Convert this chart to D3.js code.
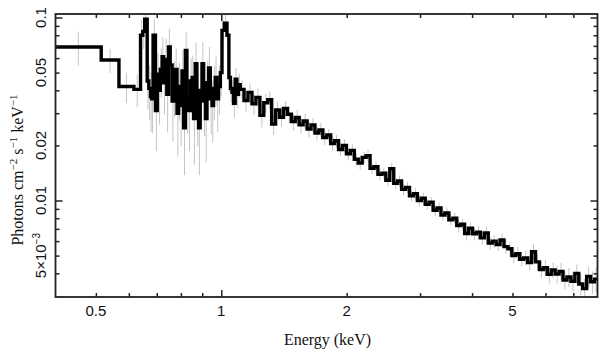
<!DOCTYPE html>
<html>
<head>
<meta charset="utf-8">
<script src="https://cdn.jsdelivr.net/npm/d3@7"></script>
<style>
  body { margin: 0; background: #fff; }
</style>
</head>
<body>
<script>
// bin edges (keV), one more than the flux values
const binEdges = [
  0.400, 0.515, 0.568, 0.617, 0.640, 0.648, 0.655, 0.664, 0.670, 0.676,
  0.681, 0.686, 0.695, 0.702, 0.708, 0.714, 0.721, 0.727, 0.734, 0.740,
  0.747, 0.754, 0.762, 0.769, 0.776, 0.783, 0.790, 0.797, 0.805, 0.812,
  0.820, 0.827, 0.835, 0.843, 0.851, 0.858, 0.866, 0.874, 0.882, 0.890,
  0.899, 0.907, 0.916, 0.924, 0.932, 0.941, 0.950, 0.958, 0.967, 0.976,
  0.985, 0.995, 1.004, 1.017, 1.032, 1.043, 1.052, 1.061, 1.070, 1.080,
  1.090, 1.100,
  1.110, 1.134, 1.159, 1.185, 1.211, 1.238, 1.265, 1.293, 1.321, 1.350,
  1.380, 1.410, 1.441, 1.473, 1.505, 1.538, 1.572, 1.607, 1.642, 1.678,
  1.715, 1.753, 1.792, 1.831, 1.871, 1.912, 1.954, 1.997, 2.041, 2.086,
  2.132, 2.179, 2.227, 2.276, 2.326, 2.377, 2.430, 2.483, 2.538, 2.594,
  2.651, 2.709, 2.769, 2.830, 2.892, 2.956, 3.021, 3.087, 3.155, 3.225,
  3.296, 3.368, 3.442, 3.518, 3.596, 3.675, 3.756, 3.838, 3.923, 4.009,
  4.097, 4.187, 4.279, 4.374, 4.470, 4.568, 4.669, 4.771, 4.876, 4.984,
  5.093, 5.205, 5.320, 5.437, 5.556, 5.678, 5.803, 5.931, 6.061, 6.195,
  6.331, 6.470, 6.612, 6.758, 6.907, 7.059, 7.214, 7.373, 7.535, 7.701,
  7.870, 8.000
];

// Photons cm^-2 s^-1 keV^-1 per bin
const flux = [
  0.069, 0.0586, 0.042, 0.0405, 0.080, 0.084, 0.098,
  0.045, 0.041, 0.037, 0.036, 0.080, 0.031, 0.049, 0.040, 0.052,
  0.061, 0.044, 0.059, 0.038, 0.069, 0.055, 0.035, 0.043, 0.052,
  0.030, 0.042, 0.033, 0.051, 0.025, 0.066, 0.036, 0.031, 0.045,
  0.047, 0.028, 0.056, 0.032, 0.025, 0.040, 0.056, 0.035, 0.028,
  0.044, 0.053, 0.036, 0.033, 0.041, 0.047, 0.036, 0.042, 0.050,
  0.085, 0.093, 0.080,
  0.047, 0.041, 0.039, 0.034, 0.046, 0.038, 0.043,
  0.0405, 0.0352, 0.0390, 0.0338, 0.0366, 0.0292, 0.0342, 0.0355, 0.0262, 0.0312,
  0.0285, 0.0318, 0.0296, 0.0270, 0.0284, 0.0259, 0.0272, 0.0246, 0.0259, 0.0234,
  0.0243, 0.0221, 0.0228, 0.0205, 0.0212, 0.0190, 0.0200, 0.0180, 0.0188, 0.0168,
  0.0160, 0.0172, 0.0176, 0.0150, 0.0153, 0.0139, 0.0141, 0.0129, 0.0149, 0.0124,
  0.0128, 0.0115, 0.0118, 0.0106, 0.0109, 0.0100, 0.0103, 0.00952, 0.00980, 0.00885,
  0.00912, 0.00832, 0.00856, 0.00785, 0.00800, 0.00730, 0.00742, 0.00660, 0.00705, 0.00658,
  0.00672, 0.00625, 0.00665, 0.00585, 0.00600, 0.00575, 0.00608, 0.00560, 0.00545, 0.00500,
  0.00512, 0.00478, 0.00486, 0.00458, 0.00525, 0.00462, 0.00420, 0.00430, 0.00395, 0.00418,
  0.00396, 0.00410, 0.00368, 0.00382, 0.00362, 0.00400, 0.00350, 0.00330, 0.00385, 0.00360,
  0.00372
];

// relative 1-sigma error of each bin
const fracErr = [
  0.21, 0.15, 0.19, 0.2, 0.22, 0.2, 0.17,
  0.3, 0.33, 0.36, 0.35, 0.22, 0.4, 0.3, 0.35, 0.3,
  0.28, 0.33, 0.3, 0.38, 0.26, 0.3, 0.4, 0.34, 0.3,
  0.42, 0.35, 0.4, 0.3, 0.45, 0.26, 0.36, 0.4, 0.33,
  0.32, 0.44, 0.3, 0.38, 0.45, 0.35, 0.3, 0.36, 0.42,
  0.32, 0.3, 0.36, 0.37, 0.33, 0.3, 0.34, 0.3, 0.26,
  0.13, 0.11, 0.12,
  0.17, 0.16, 0.16, 0.17, 0.15, 0.16, 0.15,
  0.12, 0.13, 0.12, 0.13, 0.12, 0.14, 0.12, 0.11, 0.13, 0.11,
  0.11, 0.1, 0.1, 0.11, 0.1, 0.1, 0.09, 0.1, 0.09, 0.09,
  0.09, 0.09, 0.08, 0.09, 0.08, 0.08, 0.08, 0.08, 0.08, 0.08,
  0.08, 0.07, 0.08, 0.07, 0.07, 0.07, 0.07, 0.07, 0.07, 0.07,
  0.07, 0.07, 0.07, 0.07, 0.07, 0.07, 0.07, 0.07, 0.07, 0.07,
  0.07, 0.07, 0.07, 0.07, 0.07, 0.08, 0.07, 0.08, 0.07, 0.08,
  0.08, 0.08, 0.08, 0.08, 0.08, 0.08, 0.08, 0.09, 0.09, 0.09,
  0.09, 0.09, 0.09, 0.09, 0.1, 0.1, 0.1, 0.1, 0.11, 0.1,
  0.11, 0.11, 0.11, 0.12, 0.12, 0.12, 0.13, 0.13, 0.13, 0.14, 0.15
];

// axis ticks
const xLabelTicks = [0.5, 1, 2, 5];
const xMajorTicks = [1];
const xMinorTicks = [0.5, 0.6, 0.7, 0.8, 0.9, 2, 3, 4, 5, 6, 7];
const yLabelTicks = [0.1, 0.05, 0.02, 0.01, 0.005];
const yMajorTicks = [0.1, 0.01];
const yMinorTicks = [0.004, 0.005, 0.006, 0.007, 0.008, 0.009,
                     0.02, 0.03, 0.04, 0.05, 0.06, 0.07, 0.08, 0.09];

const width = 609;
const height = 360;
const margin = { top: 14, right: 11.5, bottom: 63, left: 55.5 };
const plotW = width - margin.left - margin.right;
const plotH = height - margin.top - margin.bottom;

const svg = d3.select("body")
  .append("svg")
  .attr("width", width)
  .attr("height", height);

const g = svg.append("g")
  .attr("transform", `translate(${margin.left}, ${margin.top})`);

const x = d3.scaleLog().domain([0.4, 8]).range([0, plotW]);
const y = d3.scaleLog().domain([0.00297, 0.1045]).range([plotH, 0]);

g.append("clipPath").attr("id", "plotclip")
  .append("rect").attr("width", plotW).attr("height", plotH);

const bins = flux.map((v, i) => ({
  lo: binEdges[i], hi: binEdges[i + 1], v: v, e: v * fracErr[i]
}));

const plot = g.append("g").attr("clip-path", "url(#plotclip)");

// error bars
plot.selectAll(".err")
  .data(bins)
  .enter()
  .append("line")
  .attr("class", "err")
  .attr("x1", d => x(Math.sqrt(d.lo * d.hi)))
  .attr("x2", d => x(Math.sqrt(d.lo * d.hi)))
  .attr("y1", d => y(d.v + d.e))
  .attr("y2", d => y(Math.max(d.v - d.e, 0.001)))
  .attr("stroke", "#c4c4c4")
  .attr("stroke-width", 1);

// step histogram
const pts = [];
bins.forEach(d => { pts.push([d.lo, d.v]); pts.push([d.hi, d.v]); });
plot.append("path")
  .datum(pts)
  .attr("fill", "none")
  .attr("stroke", "#000")
  .attr("stroke-width", 3.4)
  .attr("stroke-linejoin", "miter")
  .attr("d", d3.line().x(d => x(d[0])).y(d => y(d[1])));

// ticks on all four sides, pointing inward
const axisColor = "#222";
function tickAxis(axisFn, scale, values, size, transform) {
  const a = g.append("g")
    .attr("transform", transform)
    .call(axisFn(scale).tickValues(values).tickSize(-size).tickFormat(""));
  a.select(".domain").remove();
  a.selectAll("line").attr("stroke", axisColor).attr("stroke-width", 1.5);
}
tickAxis(d3.axisBottom, x, xMinorTicks, 4, `translate(0, ${plotH})`);
tickAxis(d3.axisBottom, x, xMajorTicks, 7, `translate(0, ${plotH})`);
tickAxis(d3.axisTop, x, xMinorTicks, 4, "translate(0, 0)");
tickAxis(d3.axisTop, x, xMajorTicks, 7, "translate(0, 0)");
tickAxis(d3.axisLeft, y, yMinorTicks, 4, "translate(0, 0)");
tickAxis(d3.axisLeft, y, yMajorTicks, 7, "translate(0, 0)");
tickAxis(d3.axisRight, y, yMinorTicks, 4, `translate(${plotW}, 0)`);
tickAxis(d3.axisRight, y, yMajorTicks, 7, `translate(${plotW}, 0)`);

// frame
g.append("rect")
  .attr("width", plotW)
  .attr("height", plotH)
  .attr("fill", "none")
  .attr("stroke", axisColor)
  .attr("stroke-width", 1.8);

// x tick labels
g.selectAll(".xlab")
  .data(xLabelTicks)
  .enter()
  .append("text")
  .attr("class", "xlab")
  .attr("x", d => x(d))
  .attr("y", plotH + 19)
  .attr("text-anchor", "middle")
  .attr("font-family", "Liberation Sans, Arial, sans-serif")
  .attr("font-size", 15)
  .attr("fill", "#111")
  .text(d => d);

// y tick labels (rotated)
const yLab = g.selectAll(".ylab")
  .data(yLabelTicks)
  .enter()
  .append("text")
  .attr("class", "ylab")
  .attr("transform", d => `translate(-10, ${y(d)}) rotate(-90)`)
  .attr("text-anchor", "middle")
  .attr("font-family", "Liberation Sans, Arial, sans-serif")
  .attr("font-size", 15)
  .attr("fill", "#111");
yLab.each(function(d) {
  const t = d3.select(this);
  if (d === 0.005) {
    t.append("tspan").text("5×10");
    t.append("tspan").attr("font-size", 10).attr("dy", -6).text("−3");
  } else {
    t.text(d);
  }
});

// axis titles
svg.append("text")
  .attr("x", margin.left + x(Math.sqrt(0.4 * 8)) + 1)
  .attr("y", 345)
  .attr("text-anchor", "middle")
  .attr("font-family", "Liberation Serif, Times New Roman, serif")
  .attr("font-size", 16)
  .attr("fill", "#111")
  .text("Energy (keV)");

const yt = svg.append("text")
  .attr("transform", "translate(23, 170) rotate(-90)")
  .attr("text-anchor", "middle")
  .attr("font-family", "Liberation Serif, Times New Roman, serif")
  .attr("font-size", 16)
  .attr("fill", "#111");
yt.append("tspan").text("Photons cm");
yt.append("tspan").attr("font-size", 11).attr("dy", -6).text("−2");
yt.append("tspan").attr("dy", 6).text(" s");
yt.append("tspan").attr("font-size", 11).attr("dy", -6).text("−1");
yt.append("tspan").attr("dy", 6).text(" keV");
yt.append("tspan").attr("font-size", 11).attr("dy", -6).text("−1");
</script>
</body>
</html>
